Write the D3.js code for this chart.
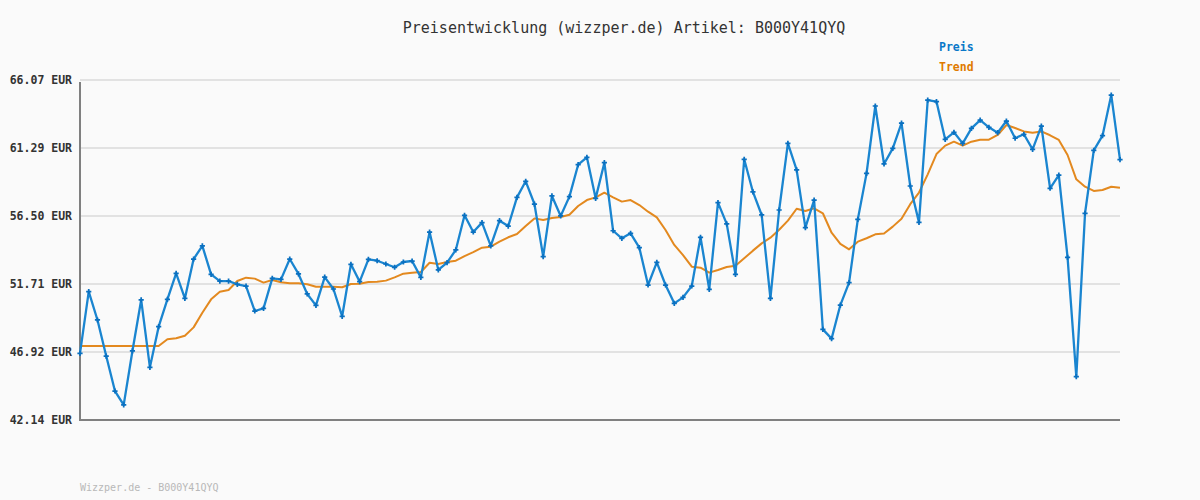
<!DOCTYPE html>
<html><head><meta charset="utf-8">
<script src="https://cdn.jsdelivr.net/npm/d3@7"></script>
<style>html,body{margin:0;padding:0;background:#fafafa;}svg{display:block;}</style>
</head><body>
<script>
const title = "Preisentwicklung (wizzper.de) Artikel: B000Y41QYQ";
const footer = "Wizzper.de - B000Y41QYQ";
const seriesNames = ["Preis", "Trend"];
const yTicks = [42.14, 46.92, 51.71, 56.50, 61.29, 66.07];
const yTickLabels = ["42.14 EUR", "46.92 EUR", "51.71 EUR", "56.50 EUR", "61.29 EUR", "66.07 EUR"];
const preis = [46.83,51.17,49.18,46.64,44.18,43.20,47.00,50.59,45.85,48.71,
50.63,52.46,50.70,53.47,54.39,52.39,51.92,51.92,51.69,51.57,
49.81,50.00,52.11,52.04,53.47,52.42,51.01,50.21,52.20,51.36,
49.44,53.10,51.88,53.45,53.35,53.12,52.89,53.26,53.33,52.18,
55.37,52.70,53.21,54.11,56.55,55.37,56.03,54.39,56.17,55.79,
57.81,58.94,57.34,53.64,57.91,56.50,57.86,60.11,60.63,57.74,
60.25,55.46,54.93,55.28,54.27,51.64,53.24,51.64,50.35,50.77,
51.57,55.00,51.34,57.44,55.94,52.39,60.49,58.19,56.57,50.70,
56.92,61.61,59.74,55.68,57.62,48.52,47.87,50.23,51.81,56.26,
59.50,64.24,60.16,61.26,63.04,58.61,56.05,64.66,64.55,61.89,
62.39,61.61,62.67,63.25,62.74,62.36,63.18,61.97,62.25,61.19,
62.83,58.45,59.38,53.59,45.19,56.69,61.12,62.15,65.01,60.46];
const trend = [47.35,47.35,47.35,47.35,47.35,47.35,47.35,47.35,47.35,47.35,
47.82,47.89,48.07,48.66,49.69,50.63,51.17,51.29,51.92,52.16,
52.09,51.81,51.99,51.83,51.76,51.76,51.69,51.52,51.52,51.52,
51.48,51.71,51.73,51.85,51.87,51.95,52.18,52.44,52.51,52.56,
53.21,53.12,53.26,53.35,53.68,53.96,54.27,54.34,54.69,55.00,
55.23,55.79,56.33,56.22,56.36,56.43,56.59,57.20,57.62,57.81,
58.14,57.81,57.51,57.62,57.27,56.80,56.40,55.51,54.46,53.75,
52.93,52.86,52.51,52.70,52.91,53.00,53.52,54.06,54.57,54.97,
55.53,56.17,57.01,56.85,57.04,56.69,55.32,54.53,54.15,54.69,
54.93,55.21,55.26,55.75,56.30,57.33,58.15,59.43,60.86,61.45,
61.73,61.45,61.73,61.87,61.87,62.20,62.90,62.69,62.45,62.36,
62.45,62.18,61.85,60.79,59.08,58.56,58.26,58.33,58.56,58.49];

const W = 1200, H = 500;
const m = {left: 80, right: 80, top: 80, bottom: 80};
const blue = "#1a85d0", blueText = "#0a78c8", orange = "#e3891f", orangeText = "#e07a00";
const mono = "'DejaVu Sans Mono', 'Liberation Mono', monospace";

const svg = d3.select("body").append("svg").attr("width", W).attr("height", H)
  .style("background", "#fafafa");

const x = d3.scaleLinear().domain([0, preis.length - 1]).range([m.left, W - m.right]);
const y = d3.scaleLinear().domain([42.14, 66.07]).range([H - m.bottom, m.top]);

// gridlines
svg.append("g").selectAll("line").data(yTicks.slice(1)).join("line")
  .attr("x1", m.left).attr("x2", W - m.right)
  .attr("y1", d => y(d)).attr("y2", d => y(d))
  .attr("stroke", "#e2e2e2").attr("stroke-width", 2);

// y axis labels
const yAxis = d3.axisLeft(y).tickValues(yTicks).tickSize(0).tickPadding(8)
  .tickFormat((d, i) => yTickLabels[i]);
const ga = svg.append("g").attr("transform", `translate(${m.left},0)`).call(yAxis);
ga.select(".domain").remove();
ga.selectAll("text").attr("font-family", mono).attr("font-size", 11.5)
  .attr("font-weight", "bold").attr("fill", "#333");

// axes lines
svg.append("line").attr("x1", m.left).attr("x2", m.left).attr("y1", y(66.07) + 2).attr("y2", y(42.14))
  .attr("stroke", "#808080").attr("stroke-width", 2);
svg.append("line").attr("x1", m.left - 1).attr("x2", W - m.right).attr("y1", y(42.14)).attr("y2", y(42.14))
  .attr("stroke", "#808080").attr("stroke-width", 2);

// trend line
const line = d3.line().x((d, i) => x(i)).y(d => y(d));
svg.append("path").datum(trend).attr("d", line).attr("fill", "none")
  .attr("stroke", orange).attr("stroke-width", 2).attr("stroke-linejoin", "round");

// price line
svg.append("path").datum(preis).attr("d", line).attr("fill", "none")
  .attr("stroke", blue).attr("stroke-width", 2.3).attr("stroke-linejoin", "round");

// markers
const cross = d3.symbol().type(d3.symbolCross).size(15);
svg.append("g").selectAll("path").data(preis).join("path")
  .attr("d", cross)
  .attr("transform", (d, i) => `translate(${x(i)},${y(d)})`)
  .attr("fill", "#0a70c0");

// title
svg.append("text").attr("x", 624).attr("y", 33).attr("text-anchor", "middle")
  .attr("font-family", mono).attr("font-size", 15).attr("fill", "#333")
  .text(title);

// legend
const leg = svg.append("g");
leg.selectAll("text").data(seriesNames).join("text")
  .attr("x", 939).attr("y", (d, i) => 51 + i * 20)
  .attr("font-family", mono).attr("font-size", 11.5).attr("font-weight", "bold")
  .attr("fill", (d, i) => i === 0 ? blueText : orangeText)
  .text(d => d);

// footer
svg.append("text").attr("x", 80).attr("y", 491)
  .attr("font-family", mono).attr("font-size", 10).attr("fill", "#b8b8b8")
  .text(footer);
</script>
</body></html>
